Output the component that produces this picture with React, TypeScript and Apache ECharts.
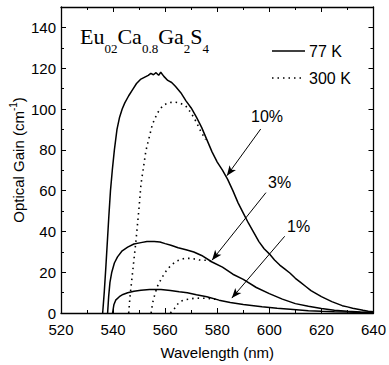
import React, { useEffect, useRef } from "react";
import * as echarts from "echarts";

// [wavelength (nm), optical gain (cm^-1)]
const gain10_77K: [number, number][] = [
  [536.0, 0], [536.6, 10], [537.2, 22], [537.8, 35], [538.4, 48], [539.0, 60], [539.7, 70],
  [540.5, 80], [541.5, 90], [542.5, 96], [543.5, 100], [544.5, 103], [546, 106.5],
  [547.5, 109.5], [549, 112.5], [550.5, 114.5], [552, 115.5], [553.5, 116.5], [554.5, 117.5],
  [555.5, 116.8], [556.5, 117.8], [557.5, 116.5], [558.3, 118], [559.5, 116], [561, 114],
  [562.5, 113], [564, 111], [566, 108], [568, 104], [570, 100.5], [572, 96], [574, 91],
  [576, 85], [578, 79], [580, 74], [582, 70], [584, 65.5], [586, 60], [588, 54], [590, 49],
  [592, 44], [594, 39.5], [596, 35], [598, 31.5], [600, 29], [602, 26], [604, 23.5],
  [606, 21.5], [608, 19.5], [610, 17], [612, 15], [614, 13], [616, 11], [618, 9.5], [620, 8],
  [622, 6.8], [624, 5.6], [626, 4.6], [628, 3.6], [630, 3], [632, 2.3], [634, 1.8],
  [636, 1.3], [638, 0.9], [640, 0.6],
];
const gain10_300K: [number, number][] = [
  [546.0, 0], [546.5, 8], [547.5, 20], [548.8, 35.6], [550, 52], [550.7, 63], [552.6, 79.5],
  [555.1, 92.5], [557, 98], [559, 101.5], [561, 103], [563.4, 103.4], [565.5, 103],
  [567.9, 101.5], [570, 98], [572, 93.5], [573.7, 89], [575.5, 85],
];
const gain3_77K: [number, number][] = [
  [537.9, 0], [538.3, 8], [538.8, 15], [539.5, 20], [540.5, 24.5], [541.7, 27.5],
  [543.5, 30.5], [545.6, 32.3], [548, 33.8], [550.7, 34.5], [553, 35], [555.8, 35],
  [558, 34.8], [560, 34], [562.2, 33.2], [565, 32], [568, 31], [571, 29.9], [574, 28.2],
  [578, 25], [582, 22.5], [586, 19], [590, 16.5], [595, 12.5], [600, 9.5], [605, 6.8],
  [610, 4.6], [615, 3.3], [620, 2.2], [625, 1.4], [630, 0.9], [635, 0.5], [640, 0.3],
];
const gain3_300K: [number, number][] = [
  [554.6, 0], [555.2, 5], [556, 9], [557, 13], [558.4, 16.5], [560, 20], [562.2, 23.4],
  [564.5, 25.5], [567.3, 26.7], [570, 26.8], [573, 26], [576, 25.8], [577.5, 25.3],
];
const gain1_77K: [number, number][] = [
  [539.8, 0], [540.3, 4], [541, 6.3], [542.4, 8], [543.8, 9.1], [545.6, 9.9], [548, 10.7],
  [550.7, 11.2], [554, 11.5], [558.4, 11.5], [562, 11], [565.4, 10.4], [568.5, 9.9],
  [572, 8.9], [576, 8], [580.7, 6.3], [585, 5.2], [590, 4.2], [597.2, 3.1], [603, 2.3],
  [608, 1.8], [615, 1.1], [620, 0.8], [625, 0.6], [630, 0.45], [635, 0.3], [640, 0.2],
];
const gain1_300K: [number, number][] = [
  [562, 0], [563.5, 2], [564.5, 4], [566, 5.8], [568, 6.6], [571.1, 7.2], [573.5, 7.3],
  [576, 7.2], [579.4, 6.7], [580.7, 6.3],
];

// annotation arrows: [tail, head] in data coordinates
const arrow10: [number, number][] = [[596.7, 90.2], [583.7, 67.3]];
const arrow3: [number, number][] = [[598.7, 59], [578.0, 25.9]];
const arrow1: [number, number][] = [[605.9, 37.6], [585.6, 7.3]];

const X_MIN = 520, X_MAX = 640, X_STEP = 20;
const Y_MIN = 0, Y_MAX = 150, Y_STEP = 20;

const SANS = "'Liberation Sans', Arial, sans-serif";
const SERIF = "'Liberation Serif', 'Times New Roman', serif";

export default function App() {
  const ref = useRef<HTMLDivElement>(null);
  useEffect(() => {
    if (!ref.current) return;
    const chart = echarts.init(ref.current, null, { renderer: "svg" });
    const black = "#000";
    const solid = { color: black, width: 1.5, type: "solid" as const };
    const dotted = { color: black, width: 1.6, type: [1.5, 4] as any, cap: "butt" as const };
    const mkSeries = (name: string, data: [number, number][], ls: any, extra: any = {}) => ({
      type: "line", name, data, symbol: "none", lineStyle: ls, silent: true,
      xAxisIndex: 0, yAxisIndex: 0, z: 3, ...extra,
    });
    const xBase = (pos: "bottom" | "top", labels: boolean) => ({
      type: "value", min: X_MIN, max: X_MAX, interval: X_STEP, position: pos,
      axisLine: { show: true, onZero: false, lineStyle: { color: black, width: 1.3 } },
      axisTick: { show: true, inside: true, length: 5, lineStyle: { color: black, width: 1 } },
      minorTick: { show: true, splitNumber: 2, length: 3, lineStyle: { color: black, width: 1 } },
      splitLine: { show: false },
      axisLabel: { show: labels, color: black, fontSize: 15, lineHeight: 12, fontFamily: SANS, margin: 10 },
      ...(labels ? {
        name: "Wavelength (nm)", nameLocation: "middle", nameGap: 32,
        nameTextStyle: { color: black, fontSize: 15, fontFamily: SANS },
      } : {}),
    });
    const yMajor = (pos: "left" | "right", labels: boolean) => ({
      type: "value", min: Y_MIN, max: Y_MAX, interval: Y_STEP, position: pos,
      axisLine: { show: true, onZero: false, lineStyle: { color: black, width: 1.3 } },
      axisTick: { show: true, inside: true, length: 5, lineStyle: { color: black, width: 1 } },
      splitLine: { show: false },
      axisLabel: { show: labels, color: black, fontSize: 15, lineHeight: 12, fontFamily: SANS, margin: 5, showMaxLabel: false },
    });
    const yMinor = (pos: "left" | "right") => ({
      type: "value", min: Y_MIN, max: Y_MAX, interval: Y_STEP / 2, position: pos,
      axisLine: { show: false },
      axisTick: { show: true, inside: true, length: 3, lineStyle: { color: black, width: 1 } },
      splitLine: { show: false },
      axisLabel: { show: false },
    });
    const arrowLine = (a: [number, number][]) => [
      { coord: a[0], symbol: "none" },
      { coord: a[1], symbol: "arrow", symbolSize: [6, 10] },
    ];
    chart.setOption({
      animation: false,
      backgroundColor: "#fff",
      grid: { left: 61, top: 7, width: 314, height: 306, containLabel: false },
      xAxis: [xBase("bottom", true), xBase("top", false)],
      yAxis: [yMajor("left", true), yMinor("left"), yMajor("right", false), yMinor("right")],
      series: [
        mkSeries("10% 77 K", gain10_77K, solid, {
          markLine: {
            silent: true, animation: false,
            lineStyle: { color: black, width: 1, type: "solid" },
            label: { show: false },
            data: [arrowLine(arrow10), arrowLine(arrow3), arrowLine(arrow1)],
          },
        }),
        mkSeries("10% 300 K", gain10_300K, dotted),
        mkSeries("3% 77 K", gain3_77K, solid),
        mkSeries("3% 300 K", gain3_300K, dotted),
        mkSeries("1% 77 K", gain1_77K, solid),
        mkSeries("1% 300 K", gain1_300K, dotted),
      ],
      graphic: [
        {
          type: "text", left: 80, top: 25, silent: true,
          style: {
            text: "{a|Eu}{s|02}{a|Ca}{s|0.8}{a|Ga}{s|2}{a|S}{s|4}",
            rich: {
              a: { fontSize: 22, fontFamily: SERIF, fill: black, lineHeight: 23, padding: [0, 0, 8, 0], verticalAlign: "bottom" },
              s: { fontSize: 13, fontFamily: SERIF, fill: black, lineHeight: 13, verticalAlign: "bottom" },
            },
          },
        },
        { type: "line", silent: true, shape: { x1: 272, y1: 51, x2: 305, y2: 51 }, style: { stroke: black, lineWidth: 1.5 } },
        { type: "text", silent: true, x: 309, y: 51, style: { text: "77 K", fontSize: 16, fontFamily: SANS, fill: black, verticalAlign: "middle", align: "left" } },
        { type: "line", silent: true, shape: { x1: 272, y1: 78, x2: 305, y2: 78 }, style: { stroke: black, lineWidth: 1.6, lineDash: [1.5, 4] } },
        { type: "text", silent: true, x: 309, y: 78, style: { text: "300 K", fontSize: 16, fontFamily: SANS, fill: black, verticalAlign: "middle", align: "left" } },
        { type: "text", silent: true, x: 251, y: 124, style: { text: "10%", fontSize: 16, fontFamily: SANS, fill: black, verticalAlign: "bottom", align: "left" } },
        { type: "text", silent: true, x: 268, y: 190, style: { text: "3%", fontSize: 16, fontFamily: SANS, fill: black, verticalAlign: "bottom", align: "left" } },
        { type: "text", silent: true, x: 287, y: 234, style: { text: "1%", fontSize: 16, fontFamily: SANS, fill: black, verticalAlign: "bottom", align: "left" } },
        {
          type: "text", silent: true, x: 17, y: 160, rotation: Math.PI / 2,
          style: {
            text: "{a|Optical Gain (cm}{s|-1}{a|)}", align: "center", verticalAlign: "middle",
            rich: {
              a: { fontSize: 15, fontFamily: SANS, fill: black, lineHeight: 18, verticalAlign: "bottom" },
              s: { fontSize: 10, fontFamily: SANS, fill: black, lineHeight: 18, verticalAlign: "top" },
            },
          },
        },
      ],
    });
    return () => chart.dispose();
  }, []);
  return <div ref={ref} style={{ position: "fixed", left: 0, top: 0, width: 389, height: 365 }} />;
}
